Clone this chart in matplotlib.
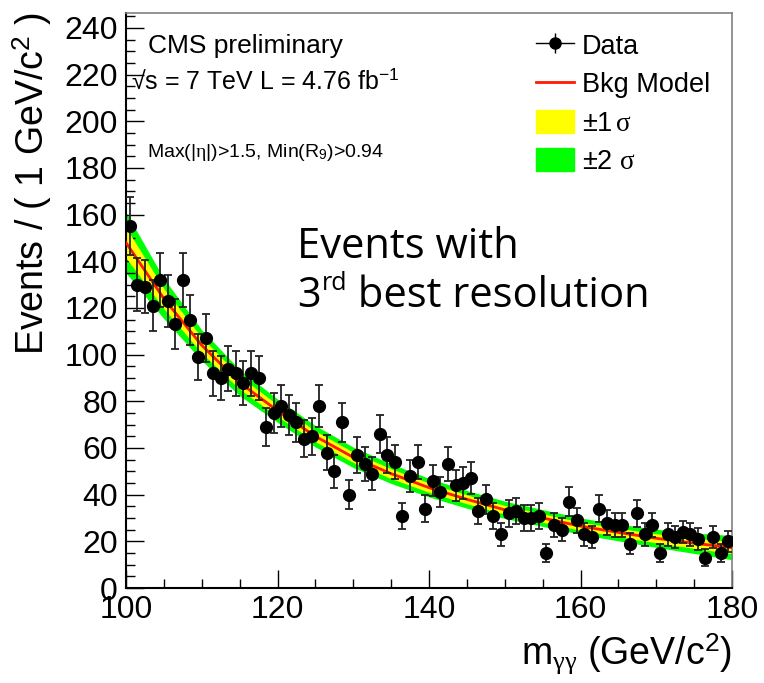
import numpy as np
import matplotlib
matplotlib.use("Agg")
import matplotlib.pyplot as plt
from matplotlib.lines import Line2D
from matplotlib.patches import Patch
from matplotlib.ticker import MultipleLocator

plt.rcParams['font.family'] = ['Liberation Sans', 'DejaVu Sans']
plt.rcParams['mathtext.fontset'] = 'custom'
plt.rcParams['mathtext.rm'] = 'Liberation Sans'
plt.rcParams['mathtext.it'] = 'Liberation Serif'

# data: events per 1 GeV bin, bin centres 100.5 ... 179.5
mass = np.arange(100.5, 180, 1.0)
events = [155, 130, 129, 121, 132, 123, 113, 132, 115, 99,
          107, 92, 90, 94, 92, 88, 92, 90, 69, 75,
          78, 74, 71, 64, 65, 78, 58, 50, 71, 40,
          57, 53, 49, 66, 57, 54, 31, 48, 54, 34,
          46, 41, 53, 44, 45, 47, 33, 38, 31, 23,
          32, 33, 30, 30, 31, 15, 27, 25, 37, 29,
          23, 22, 34, 28, 27, 27, 19, 32, 23, 27,
          15, 23, 22, 24, 23, 21, 13, 22, 15, 20]

# background model and its +-1 / +-2 sigma half widths
model_x = [100, 105, 110, 115, 120, 125, 130, 135, 140, 145, 150, 155, 160, 165, 170, 175, 180]
model_y = [148, 124, 104, 88, 76, 65, 56, 49, 43, 38, 33.5, 30, 26.5, 23.8, 21.3, 19.2, 17.3]
sig1 = [6.5, 4.3, 3.3, 2.8, 2.5, 2.3, 2.2, 2.1, 2.0, 1.9, 1.85, 1.8, 1.75, 1.8, 1.95, 2.2, 2.6]
sig2 = [13.0, 8.6, 6.6, 5.6, 5.0, 4.6, 4.4, 4.2, 4.0, 3.8, 3.7, 3.6, 3.5, 3.6, 3.9, 4.4, 5.2]

W, H = 764, 683
fig = plt.figure(figsize=(W / 100, H / 100), dpi=100)
ax = fig.add_axes([126 / W, 1 - 588 / H, 606 / W, 575 / H])

mx = np.array(model_x)
my = np.array(model_y)
s1 = np.array(sig1)
s2 = np.array(sig2)
ax.fill_between(mx, my - s2, my + s2, color='#00ff00', lw=0, zorder=1)
ax.fill_between(mx, my - s1, my + s1, color='#ffff00', lw=0, zorder=2)
ax.plot(mx, my, color='#ff1a00', lw=2, zorder=3)

ev = np.array(events, dtype=float)
ax.errorbar(mass, ev, yerr=np.sqrt(ev), fmt='o', color='black', ms=8.5,
            ecolor='#222222', elinewidth=1.3, capsize=3.2, capthick=1.3, zorder=4)

ax.set_xlim(100, 180)
ax.set_ylim(0, 246.4)
ax.xaxis.set_major_locator(MultipleLocator(20))
ax.xaxis.set_minor_locator(MultipleLocator(5))
ax.yaxis.set_major_locator(MultipleLocator(20))
ax.yaxis.set_minor_locator(MultipleLocator(5))
ax.tick_params(which='both', direction='in', top=False, right=False, width=1)
ax.tick_params(which='major', length=13)
ax.tick_params(which='minor', length=6.5)
ax.tick_params(axis='x', labelsize=23, pad=5)
ax.tick_params(axis='y', labelsize=23, pad=6)
for side in ['left', 'bottom']:
    ax.spines[side].set_linewidth(1.5)
for side in ['top', 'right']:
    ax.spines[side].set_color('0.5')
    ax.spines[side].set_linewidth(1.2)

fig.text(32 / W, 1 - 12 / H, 'Events / ( 1 GeV/c$^{\\mathrm{2}}$ )', rotation=90,
         ha='center', va='top', fontsize=27)
fig.text(732 / W, 1 - 665 / H, 'm$_{\\gamma\\gamma}$ (GeV/c$^{\\mathrm{2}}$)',
         ha='right', va='baseline', fontsize=27)

fig.text(148 / W, 1 - 53 / H, 'CMS preliminary', fontsize=19, va='baseline')
fig.text(131 / W, 1 - 89 / H, '\u221as = 7 TeV L = 4.76 fb$^{\\mathrm{-1}}$',
         fontsize=18, va='baseline')
fig.text(147 / W, 1 - 157 / H, 'Max(|$\\eta$|)>1.5, Min(R$_{\\mathrm{9}}$)>0.94',
         fontsize=14, va='baseline')

# big annotation
big = dict(family='Open Sans', fontsize=30, va='baseline')
fig.text(297 / W, 1 - 258 / H, 'Events with', **big)
t3 = fig.text(297 / W, 1 - 307 / H, '3', **big)
fig.canvas.draw()
bb = t3.get_window_extent()
trd = fig.text((bb.x1 + 1) / W, 1 - 290 / H, 'rd', family='Open Sans', fontsize=18, va='baseline')
fig.canvas.draw()
bb2 = trd.get_window_extent()
fig.text(bb2.x1 / W, 1 - 307 / H, ' best resolution', **big)

handles = [
    (Line2D([], [], color='black', lw=1),
     Line2D([], [], marker='|', ms=15, mew=1, color='black', ls='none'),
     Line2D([], [], marker='o', ms=8, color='black', ls='none')),
    Line2D([], [], color='#ff1a00', lw=2),
    Patch(facecolor='#ffff00', edgecolor='#ffff00'),
    Patch(facecolor='#00ff00', edgecolor='#00ff00'),
]
labels = ['Data', 'Bkg Model', '\u00b11$\\,\\sigma$', '\u00b12 $\\sigma$']
fig.legend(handles, labels, loc='upper left', bbox_to_anchor=(536 / W, 1 - 33 / H),
           frameon=False, fontsize=19.5, borderpad=0, borderaxespad=0,
           handlelength=1.4, handleheight=0.95, handletextpad=0.3, labelspacing=0.42)

fig.savefig('out.png', dpi=100)
